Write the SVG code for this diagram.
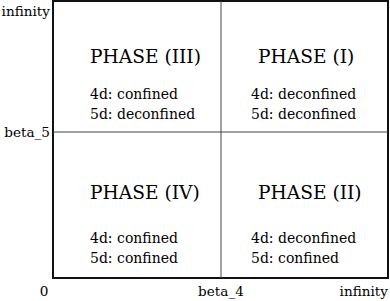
<svg xmlns="http://www.w3.org/2000/svg" width="390" height="301" viewBox="0 0 390 301">
<style>
text{font-family:"DejaVu Serif","Liberation Serif",serif;fill:#000;}
.title{font-size:18.6px;}
.body{font-size:14px;}
.lab{font-size:13.6px;}
.frame{fill:#fff;stroke:#111;stroke-width:2;}
.div{stroke:#444;stroke-width:1;fill:none;}
</style>
<rect width="390" height="301" fill="#fff"/>
<g id="frame">
<rect class="frame" x="53" y="1" width="335" height="277"/>
</g>
<g id="connectors">
<line class="div" x1="221" y1="1" x2="221" y2="278"/>
<line class="div" x1="53" y1="132" x2="388" y2="132"/>
</g>
<g id="phase3">
<text class="title" x="90" y="63">PHASE (III)</text>
<text class="body" x="90" y="99">4d: confined</text>
<text class="body" x="90" y="119">5d: deconfined</text>
</g>
<g id="phase1">
<text class="title" x="258" y="63">PHASE (I)</text>
<text class="body" x="251" y="99">4d: deconfined</text>
<text class="body" x="251" y="119">5d: deconfined</text>
</g>
<g id="phase4">
<text class="title" x="90" y="199">PHASE (IV)</text>
<text class="body" x="90" y="243">4d: confined</text>
<text class="body" x="90" y="263">5d: confined</text>
</g>
<g id="phase2">
<text class="title" x="258" y="199">PHASE (II)</text>
<text class="body" x="251" y="243">4d: deconfined</text>
<text class="body" x="251" y="263">5d: confined</text>
</g>
<g id="labels">
<text class="lab" x="50" y="16" text-anchor="end">infinity</text>
<text class="lab" x="50" y="137" text-anchor="end">beta_5</text>
<text class="lab" x="44" y="296" text-anchor="middle">0</text>
<text class="lab" x="221" y="296" text-anchor="middle">beta_4</text>
<text class="lab" x="388" y="296" text-anchor="end">infinity</text>
</g>
</svg>
